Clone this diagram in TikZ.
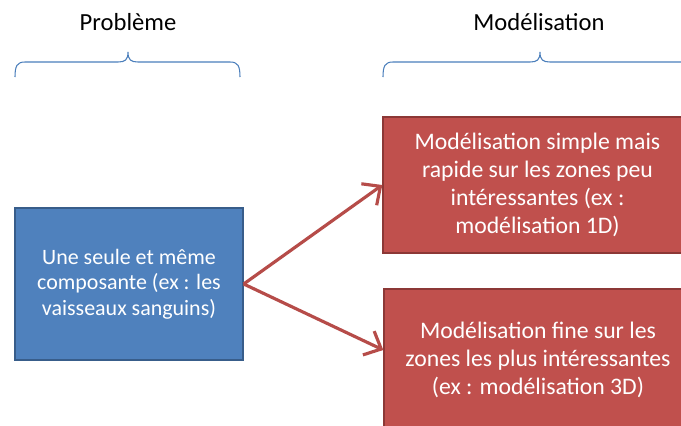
\documentclass[tikz,border=0pt]{standalone}
\usepackage{fontspec}
\setmainfont{Carlito}
\usetikzlibrary{arrows.meta,positioning}
\definecolor{boxblue}{HTML}{4F81BD}
\definecolor{boxblueline}{HTML}{385D8A}
\definecolor{boxred}{HTML}{C0504D}
\definecolor{boxredline}{HTML}{8C3836}
\definecolor{braceblue}{HTML}{4A7EBB}
\tikzset{
	bloc/.style={draw=#1line, fill=#1, text=white, align=center, inner sep=0pt, line width=0.8pt, font=\fontsize{13.5}{16}\selectfont},
	fleche/.style={draw=boxred!95!black, line width=1.8pt, -{Straight Barb[length=8pt,width=15pt,line width=1.8pt]}},
	accolade/.style={draw=braceblue, line width=0.6pt},
	titre/.style={font=\fontsize{14}{16}\selectfont}
}
\begin{document}
\begin{tikzpicture}[x=0.02cm,y=-0.02cm]
	\useasboundingbox (0,0) rectangle (681,426);
	\clip (0,0) rectangle (681,426);% Clips the boxes at the page edge
	
	\node[titre] (TitreProbleme) at (128,22) {Problème};
	\node[titre] (TitreModele) at (539,22) {Modélisation};
	
	% accolades
	\draw[accolade] (15,77) .. controls (15,66) and (17,62) .. (25,62) -- (118,62) .. controls (125,62) and (128,60) .. (128,52) .. controls (128,60) and (131,62) .. (138,62) -- (230,62) .. controls (238,62) and (240,66) .. (240,77);
	\draw[accolade] (383,77) .. controls (383,66) and (385,62) .. (393,62) -- (530,62) .. controls (537,62) and (540,60) .. (540,52) .. controls (540,60) and (543,62) .. (550,62) -- (687,62) .. controls (695,62) and (697,66) .. (697,77);
	
	\node[bloc=boxblue, minimum width=4.56cm, minimum height=3.04cm, font=\fontsize{12.5}{14.6}\selectfont] (Probleme) at (129,284) {Une seule et même\\composante (ex : les\\vaisseaux sanguins)};
	\node[bloc=boxred, minimum width=6.18cm, minimum height=2.72cm] (Simple) at (537.5,185) {Modélisation simple mais\\rapide sur les zones peu\\intéressantes (ex :\\modélisation 1D)};
	\node[bloc=boxred, minimum width=6.16cm, minimum height=2.84cm] (Fine) at (538,360) {Modélisation fine sur les\\zones les plus intéressantes\\(ex : modélisation 3D)};
	
	\draw[fleche] (Probleme.east) -- (Simple.west);
	\draw[fleche] (Probleme.east) -- ([yshift=0.2cm]Fine.west);
\end{tikzpicture}
\end{document}
